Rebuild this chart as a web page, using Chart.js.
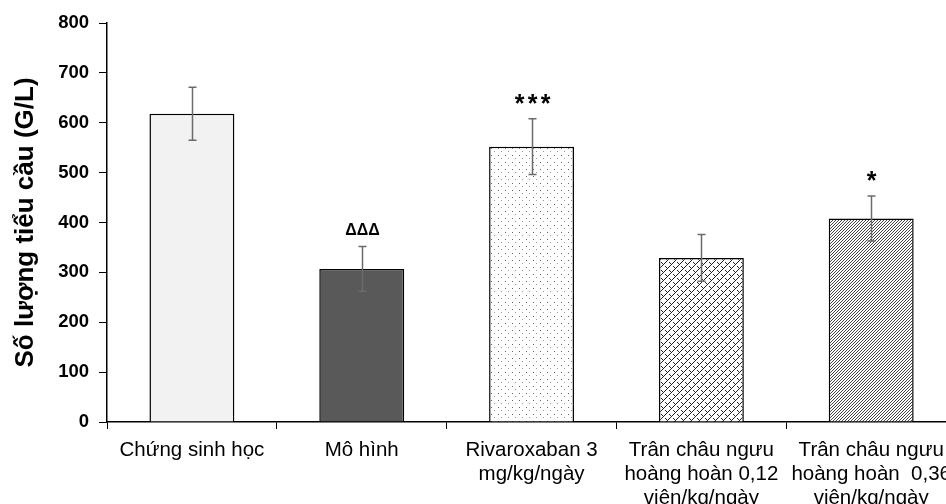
<!DOCTYPE html>
<html>
<head>
<meta charset="utf-8">
<script src="https://cdn.jsdelivr.net/npm/chart.js@4"></script>
<style>
html,body{margin:0;padding:0;background:#fff;overflow:hidden;}
#wrap{width:946px;height:504px;position:relative;overflow:hidden;}
</style>
</head>
<body>
<div id="wrap"><canvas id="c" width="961" height="504"></canvas></div>
<script>
const categories = [
  "Chứng sinh học",
  "Mô hình",
  ["Rivaroxaban 3", "mg/kg/ngày"],
  ["Trân châu ngưu", "hoàng hoàn 0,12", "viên/kg/ngày"],
  ["Trân châu ngưu", "hoàng hoàn  0,36", "viên/kg/ngày"]
];
const means = [618, 307, 552, 329, 408];
const errors = [53, 45, 56, 47, 45];
const marks = ["", "ΔΔΔ", "***", "", "*"];
const yTicks = [0, 100, 200, 300, 400, 500, 600, 700, 800];
const yTitle = "Số lượng tiểu cầu (G/L)";

function tile(w, h, draw) {
  const c = document.createElement('canvas');
  c.width = w; c.height = h;
  const g = c.getContext('2d');
  g.fillStyle = '#fff'; g.fillRect(0, 0, w, h);
  draw(g);
  return document.getElementById('c').getContext('2d').createPattern(c, 'repeat');
}
const dotPat = tile(7, 7, g => {
  g.fillStyle = '#666';
  g.fillRect(1, 1, 1, 1);
  g.fillStyle = '#999';
  g.fillRect(4, 4, 1, 1);
});
const weavePat = tile(8, 8, g => {
  g.strokeStyle = '#222'; g.lineWidth = 1;
  g.beginPath();
  g.moveTo(0, 8); g.lineTo(8, 0);
  g.moveTo(1, 2); g.lineTo(4, 5);
  g.moveTo(5, 6); g.lineTo(7, 8);
  g.stroke();
});
const diagPat = tile(3, 3, g => {
  g.strokeStyle = '#444'; g.lineWidth = 1;
  g.beginPath();
  g.moveTo(-1, 4); g.lineTo(4, -1);
  g.stroke();
});
const fills = ['#f2f2f2', '#595959', dotPat, weavePat, diagPat];

const errPlugin = {
  id: 'err',
  afterDatasetsDraw(chart) {
    const ctx = chart.ctx;
    const x = chart.scales.x, y = chart.scales.y;
    ctx.save();
    ctx.strokeStyle = '#6b6b6b';
    ctx.lineWidth = 1.5;
    means.forEach((m, i) => {
      const px = Math.round(x.getPixelForValue(i)) + 0.5;
      const top = y.getPixelForValue(m + errors[i]);
      const bot = y.getPixelForValue(m - errors[i]);
      ctx.beginPath();
      ctx.moveTo(px, top); ctx.lineTo(px, bot);
      ctx.moveTo(px - 4, top); ctx.lineTo(px + 4, top);
      ctx.moveTo(px - 4, bot); ctx.lineTo(px + 4, bot);
      ctx.stroke();
      const mk = marks[i];
      if (mk) {
        ctx.fillStyle = '#000';
        ctx.textAlign = 'center';
        ctx.textBaseline = 'middle';
        if (mk.startsWith('Δ')) {
          ctx.font = 'bold 16px "Liberation Sans", sans-serif';
          ctx.fillText(mk, px, top - 16);
        } else {
          ctx.font = 'bold 25px "Liberation Sans", sans-serif';
          const n = mk.length;
          for (let k = 0; k < n; k++) {
            ctx.fillText('*', px + (k - (n - 1) / 2) * 13, top - 14);
          }
        }
      }
    });
    ctx.restore();
  }
};

new Chart(document.getElementById('c'), {
  type: 'bar',
  data: {
    labels: categories,
    datasets: [{
      data: means,
      backgroundColor: fills,
      borderColor: '#000',
      borderWidth: 1.5,
      borderSkipped: 'bottom',
      barPercentage: 0.5,
      categoryPercentage: 1.0
    }]
  },
  options: {
    responsive: false,
    animation: false,
    devicePixelRatio: 1,
    layout: { padding: { top: 23, right: 0, left: 0, bottom: 0 } },
    plugins: { legend: { display: false }, tooltip: { enabled: false } },
    scales: {
      x: {
        afterFit(s) { s.height = 82; },
        grid: { drawOnChartArea: false, color: '#000', tickLength: 7, offset: true },
        border: { color: '#000', width: 1.5 },
        ticks: {
          color: '#000',
          font: { family: '"Liberation Sans", Arial, sans-serif', size: 20.5, lineHeight: 1.15 },
          maxRotation: 0, autoSkip: false, padding: 10
        }
      },
      y: {
        min: 0, max: 800,
        afterBuildTicks(s) { s.ticks = yTicks.map(v => ({ value: v })); },
        afterFit(s) { s.width = 107; },
        grid: { drawOnChartArea: false, color: '#000', tickLength: 8, offset: false },
        border: { color: '#000', width: 1.5 },
        ticks: {
          color: '#000',
          font: { family: '"Liberation Sans", Arial, sans-serif', size: 18.5, weight: 'bold' },
          padding: 10
        },
        title: {
          display: true, text: yTitle, color: '#000',
          font: { family: '"Liberation Sans", Arial, sans-serif', size: 26, weight: 'bold' },
          padding: { top: 10, bottom: 0 }
        }
      }
    }
  },
  plugins: [errPlugin]
});
</script>
</body>
</html>
